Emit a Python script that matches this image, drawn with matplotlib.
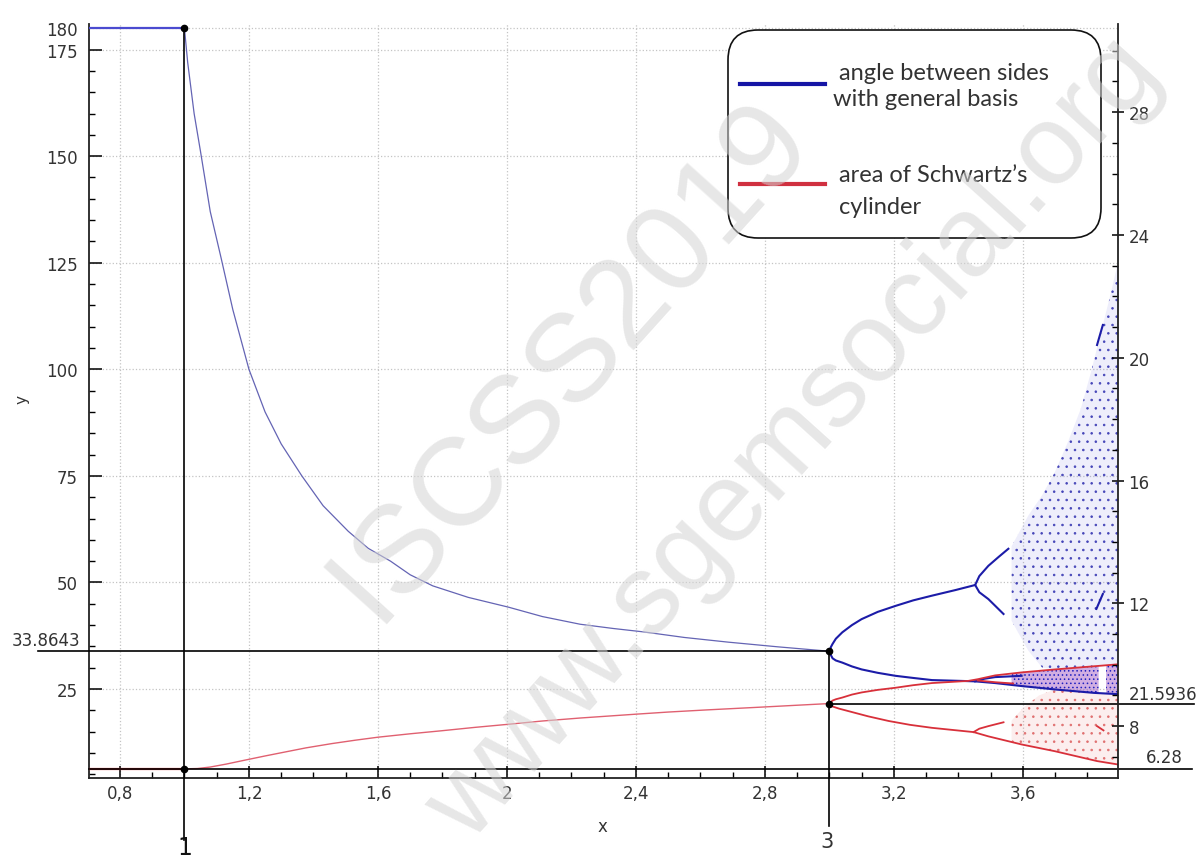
"""
Bifurcation chart: angle between sides with general basis and area of
Schwartz's cylinder, plotted against x.
"""
import matplotlib

matplotlib.use("Agg")
import matplotlib.pyplot as plt
from matplotlib.patches import FancyBboxPatch
from matplotlib.lines import Line2D
from matplotlib.ticker import FixedLocator, MultipleLocator

# constant levels for x < 1
FLAT_X = [0.7, 1.0]
ANGLE_FLAT = [180, 180]
AREA_FLAT = [6.28, 6.28]

# single stable branch, 1 <= x <= 3
ANGLE_X = [1.0, 1.01, 1.02, 1.03, 1.05, 1.08, 1.114, 1.15, 1.2, 1.25, 1.3,
           1.364, 1.43, 1.508, 1.57, 1.639, 1.70, 1.77, 1.88, 2.005, 2.11,
           2.227, 2.33, 2.424, 2.55, 2.686, 2.84, 3.0]
ANGLE_Y = [180, 172, 166, 160, 151, 137, 126, 114, 100, 90, 82.5,
           75, 68, 62, 58, 55, 51.8, 49.2, 46.5, 44.2, 42.0,
           40.2, 39.2, 38.4, 37.1, 36.0, 34.9, 33.8643]
AREA_X = [1.0, 1.04, 1.08, 1.13, 1.18, 1.25, 1.31, 1.377, 1.457, 1.53, 1.6,
          1.7, 1.796, 1.9, 2.0, 2.11, 2.227, 2.4, 2.5, 2.619, 2.8, 2.9, 3.0]
AREA_Y = [6.28, 6.35, 6.7, 7.4, 8.2, 9.3, 10.2, 11.2, 12.2, 13.0, 13.7,
          14.5, 15.2, 16.0, 16.7, 17.5, 18.2, 19.1, 19.6, 20.1, 20.8, 21.2, 21.5936]

# period-doubling branches after x = 3
BLUE_UP_X = [3.0, 3.005, 3.01, 3.02, 3.04, 3.07, 3.10, 3.15, 3.205, 3.26, 3.318,
             3.39, 3.452]
BLUE_UP_Y = [33.8643, 34.9, 35.6, 36.8, 38.3, 40.0, 41.4, 43.1, 44.5, 45.8, 46.9,
             48.2, 49.4]
BLUE_UP_A_X = [3.452, 3.465, 3.493, 3.525, 3.555]
BLUE_UP_A_Y = [49.4, 51.5, 53.9, 56.0, 57.9]
BLUE_UP_B_X = [3.452, 3.465, 3.493, 3.54]
BLUE_UP_B_Y = [49.4, 47.7, 46.1, 42.6]
BLUE_LO_X = [3.0, 3.005, 3.01, 3.02, 3.04, 3.07, 3.10, 3.15, 3.205, 3.26, 3.318,
             3.41, 3.452, 3.514, 3.596, 3.70, 3.82, 3.895]
BLUE_LO_Y = [33.8643, 32.9, 32.2, 31.7, 31.2, 30.3, 29.6, 28.8, 28.1, 27.6, 27.1,
             26.9, 26.8, 26.4, 25.7, 24.9, 24.1, 23.8]
BLUE_LO_B_X = [3.452, 3.48, 3.514, 3.596]
BLUE_LO_B_Y = [26.8, 27.4, 27.8, 28.1]

RED_UP_X = [3.0, 3.005, 3.01, 3.02, 3.04, 3.07, 3.10, 3.15, 3.205, 3.26, 3.318,
            3.43, 3.46, 3.514, 3.596, 3.70, 3.83, 3.895]
RED_UP_Y = [21.5936, 22.0, 22.3, 22.6, 23.0, 23.7, 24.2, 24.8, 25.3, 25.9, 26.4,
            26.9, 27.3, 28.2, 28.9, 29.6, 30.4, 30.8]
RED_UP_B_X = [3.46, 3.514, 3.57]
RED_UP_B_Y = [27.0, 26.6, 26.3]
RED_LO_X = [3.0, 3.005, 3.01, 3.03, 3.06, 3.12, 3.184, 3.25, 3.318, 3.447, 3.493,
            3.596, 3.70, 3.83, 3.895]
RED_LO_Y = [21.5936, 21.2, 20.9, 20.4, 19.8, 18.6, 17.5, 16.6, 15.9, 14.9, 13.9,
            12.0, 10.4, 8.1, 7.3]
RED_LO_A_X = [3.447, 3.465, 3.493, 3.54]
RED_LO_A_Y = [14.9, 15.7, 16.3, 17.2]

# chaotic regions (outer envelopes)
BLUE_CHAOS_X = [3.565, 3.617, 3.66, 3.70, 3.74, 3.78, 3.81, 3.843, 3.87, 3.895]
BLUE_CHAOS_TOP = [58.5, 65.7, 70.5, 76, 83, 90.8, 99, 108.9, 117, 125]
BLUE_CHAOS_BOT = [41, 34, 30, 29.6, 29.9, 30.1, 30.3, 30.5, 30.6, 30.8]
RED_CHAOS_X = [3.565, 3.6, 3.65, 3.70, 3.78, 3.83, 3.895]
RED_CHAOS_TOP = [17.6, 20.5, 23.5, 24.9, 24.4, 24.1, 23.8]
RED_CHAOS_BOT = [12.7, 12.0, 11.2, 10.4, 9.0, 8.1, 7.3]
BAND_X1 = [3.565, 3.62, 3.70, 3.78, 3.835]
BAND_LO1 = [25.9, 25.5, 24.9, 24.4, 24.1]
BAND_HI1 = [28.6, 29.0, 29.6, 30.1, 30.4]
BAND_X2 = [3.858, 3.895]
BAND_LO2 = [24.0, 23.8]
BAND_HI2 = [30.6, 30.8]

# period-3 window pieces inside the chaos
WIN_TOP_X = [3.83, 3.848]
WIN_TOP_Y = [105.7, 110.4]
WIN_MID_X = [3.828, 3.848]
WIN_MID_Y = [43.8, 47.3]
WIN_RED_X = [3.83, 3.85]
WIN_RED_Y = [16.3, 15.3]

# marked points
MARK_X = [1, 1, 3, 3]
MARK_Y = [180, 6.28, 33.8643, 21.5936]

X_TICKS = [0.8, 1.2, 1.6, 2.0, 2.4, 2.8, 3.2, 3.6]
X_LABELS = ["0,8", "1,2", "1,6", "2", "2,4", "2,8", "3,2", "3,6"]
Y_TICKS = [25, 50, 75, 100, 125, 150, 175, 180]
Y2_TICKS = [8, 12, 16, 20, 24, 28]

W, H = 1200, 862


def fig_xy(px, py):
    return px / W, 1 - py / H


def main() -> None:
    plt.rcParams["hatch.linewidth"] = 0.6
    fig = plt.figure(figsize=(12, 8.62), dpi=100)
    ax = fig.add_axes([89 / W, 1 - 779 / H, (1118 - 89) / W, (779 - 25) / H])
    ax2 = ax.twinx()

    ax.set_xlim(0.704, 3.895)
    ax.set_ylim(4.13, 181.0)
    ax2.set_ylim(6.31, 30.87)

    # grid
    ax.grid(True, which="major", color="#c4c4c4", linestyle=":", linewidth=0.9)
    ax.set_axisbelow(True)

    # chaotic clouds
    ax.fill_between(BLUE_CHAOS_X, BLUE_CHAOS_BOT, BLUE_CHAOS_TOP,
                    facecolor=(0.35, 0.35, 0.85, 0.10), edgecolor="#4545b8",
                    hatch="..", linewidth=0, zorder=2)
    ax.fill_between(RED_CHAOS_X, RED_CHAOS_BOT, RED_CHAOS_TOP,
                    facecolor=(0.9, 0.35, 0.35, 0.10), edgecolor="#e07070",
                    hatch="..", linewidth=0, zorder=2)
    for bx, blo, bhi in [(BAND_X1, BAND_LO1, BAND_HI1), (BAND_X2, BAND_LO2, BAND_HI2)]:
        ax.fill_between(bx, blo, bhi, facecolor=(0.6, 0.3, 0.75, 0.45),
                        edgecolor="#2020c0", hatch="....", linewidth=0, zorder=2)

    # flat parts
    ax.plot(FLAT_X, ANGLE_FLAT, color="#4b4bd0", lw=1.6, zorder=3)
    ax.plot(FLAT_X, AREA_FLAT, color="#e8383c", lw=1.6, zorder=3)

    # single branch
    ax.plot(ANGLE_X, ANGLE_Y, color="#6464b4", lw=0.9, zorder=3)
    ax.plot(AREA_X, AREA_Y, color="#e06070", lw=1.0, zorder=3)

    # doubling branches
    blue = "#1c1ca8"
    red = "#d8303a"
    for bx, by in [(BLUE_UP_X, BLUE_UP_Y), (BLUE_UP_A_X, BLUE_UP_A_Y),
                   (BLUE_UP_B_X, BLUE_UP_B_Y), (BLUE_LO_X, BLUE_LO_Y),
                   (BLUE_LO_B_X, BLUE_LO_B_Y), (WIN_TOP_X, WIN_TOP_Y),
                   (WIN_MID_X, WIN_MID_Y)]:
        ax.plot(bx, by, color=blue, lw=1.5, zorder=4)
    for bx, by in [(RED_UP_X, RED_UP_Y), (RED_UP_B_X, RED_UP_B_Y),
                   (RED_LO_X, RED_LO_Y), (RED_LO_A_X, RED_LO_A_Y),
                   (WIN_RED_X, WIN_RED_Y)]:
        ax.plot(bx, by, color=red, lw=1.3, zorder=4)

    # guide lines
    guide = dict(color="black", lw=1.2, clip_on=False, zorder=5)
    ax.plot([1, 1], [180, -10.5], **guide)
    ax.plot([3, 3], [33.8643, -7.1], **guide)
    ax.plot([0.546, 3], [33.8643, 33.8643], **guide)
    ax.plot([3, 4.13], [21.5936, 21.5936], **guide)
    ax.plot([0.704, 4.125], [6.28, 6.28], **guide)
    ax.plot(MARK_X, MARK_Y, "o", color="black", ms=4.5, clip_on=False, zorder=6)

    # ticks
    tick_color = "#333333"
    ax.xaxis.set_major_locator(FixedLocator(X_TICKS))
    ax.set_xticklabels(X_LABELS)
    ax.xaxis.set_minor_locator(MultipleLocator(0.1))
    ax.yaxis.set_major_locator(FixedLocator(Y_TICKS))
    ax.yaxis.set_minor_locator(MultipleLocator(5))
    ax2.yaxis.set_major_locator(FixedLocator(Y2_TICKS))
    ax2.yaxis.set_minor_locator(MultipleLocator(1))
    ax.tick_params(axis="both", which="major", direction="in", length=9,
                   width=1.1, labelsize=12, labelcolor=tick_color)
    ax.tick_params(axis="x", which="major", pad=4)
    ax.tick_params(axis="y", which="major", pad=8)
    ax.tick_params(axis="both", which="minor", direction="in", length=4, width=1)
    ax2.tick_params(axis="y", which="major", direction="inout", length=9,
                    width=1.1, labelsize=12, labelcolor=tick_color, pad=3)
    ax2.tick_params(axis="y", which="minor", direction="in", length=4, width=1)

    for a in (ax, ax2):
        a.spines["top"].set_visible(False)
        for s in ("left", "bottom", "right"):
            a.spines[s].set_linewidth(1.3)
            a.spines[s].set_color("#222222")
    ax.spines["right"].set_visible(False)
    ax2.spines["left"].set_visible(False)
    ax2.spines["bottom"].set_visible(False)

    fig.text(*fig_xy(602, 827), "x", fontsize=12, color=tick_color,
             ha="center", va="center")
    fig.text(*fig_xy(22, 400), "y", fontsize=11, color=tick_color,
             ha="center", va="center", rotation=90)

    # guide labels
    fig.text(*fig_xy(80, 641), "33.8643", fontsize=12, color=tick_color,
             ha="right", va="center")
    fig.text(*fig_xy(1197, 695), "21.5936", fontsize=12, color=tick_color,
             ha="right", va="center")
    fig.text(*fig_xy(1183, 758), "6.28", fontsize=12, color=tick_color,
             ha="right", va="center")
    fig.text(*fig_xy(185, 848), "1", fontsize=17, color="#111111",
             ha="center", va="center")
    fig.text(*fig_xy(827, 842), "3", fontsize=15, color=tick_color,
             ha="center", va="center")

    # legend box
    x0, y0 = fig_xy(728, 239)
    x1, y1 = fig_xy(1101, 31)
    box = FancyBboxPatch((x0, y0), x1 - x0, y1 - y0,
                         boxstyle="round,pad=0,rounding_size=0.025",
                         transform=fig.transFigure, facecolor="white",
                         edgecolor="#111111", lw=1.2, zorder=10,
                         mutation_aspect=W / H)
    fig.patches.append(box)
    lx0, ly = fig_xy(740, 85)
    lx1, _ = fig_xy(825, 85)
    fig.add_artist(Line2D([lx0, lx1], [ly, ly], color="#1515a5", lw=3,
                          transform=fig.transFigure, zorder=11))
    _, ly = fig_xy(740, 185)
    fig.add_artist(Line2D([lx0, lx1], [ly, ly], color="#d03040", lw=3,
                          transform=fig.transFigure, zorder=11))
    legend_font = dict(fontsize=17, family="Lato", color="#333333",
                       va="center", ha="left", zorder=12)
    fig.text(*fig_xy(839, 74), "angle between sides", **legend_font)
    fig.text(*fig_xy(833, 99), "with general basis", **legend_font)
    fig.text(*fig_xy(839, 175), "area of Schwartz\u2019s", **legend_font)
    fig.text(*fig_xy(839, 207), "cylinder", **legend_font)

    # watermark
    mark = dict(color="#d4d4d4", alpha=0.55, rotation=48, ha="center",
                va="center", zorder=20, family="Liberation Sans")
    fig.text(*fig_xy(570, 360), "ISCSS2019", fontsize=90, **mark)
    fig.text(*fig_xy(795, 440), "www.sgemsocial.org", fontsize=82, **mark)

    fig.savefig("out.png", dpi=100)


if __name__ == "__main__":
    main()
